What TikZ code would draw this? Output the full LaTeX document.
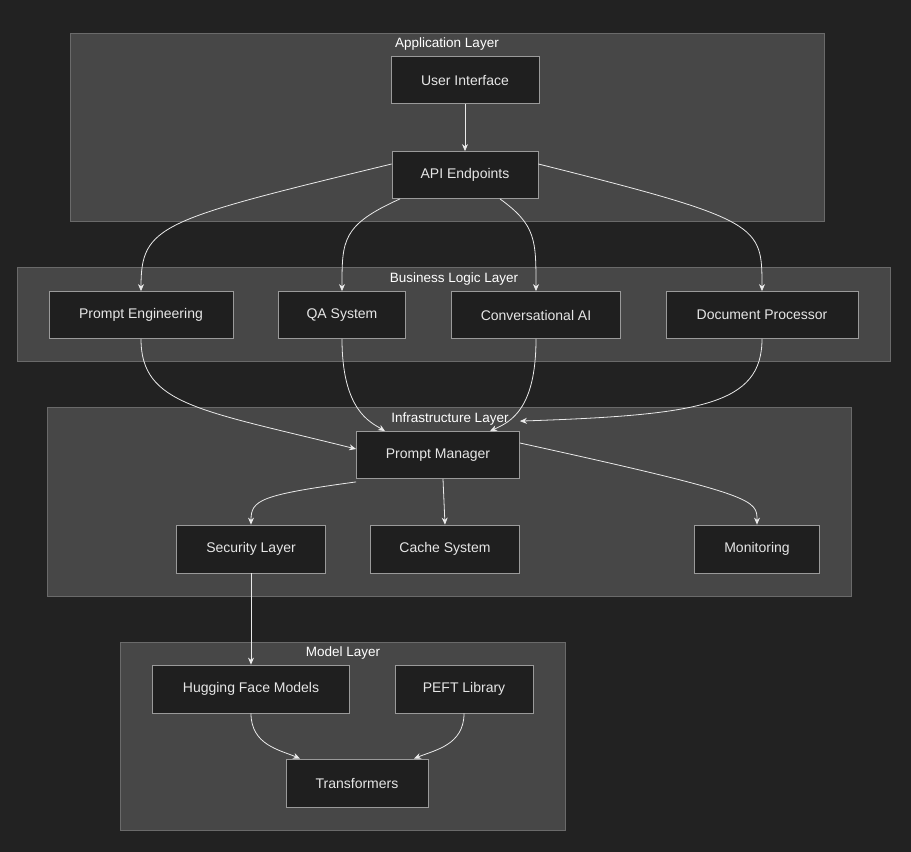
\documentclass[tikz,border=0pt]{standalone}
\usepackage{fontspec}
\setmainfont{Liberation Sans}
\usetikzlibrary{arrows.meta}
\definecolor{bgcol}{HTML}{222222}
\definecolor{layercol}{HTML}{474747}
\definecolor{layerline}{HTML}{6A6A6A}
\definecolor{boxcol}{HTML}{1F1F1F}
\definecolor{boxline}{HTML}{9A9A9A}
\definecolor{txtcol}{HTML}{E6E6E6}
\tikzset{
  layer/.style={draw=layerline,fill=layercol,line width=0.8pt},
  layerlabel/.style={text=white,font=\fontsize{13.5}{15}\selectfont},
  comp/.style={draw=boxline,fill=boxcol,line width=0.8pt,text=txtcol,font=\fontsize{14}{16}\selectfont},
  link/.style={draw=txtcol!85,line width=0.8pt,-{Stealth[length=7pt,width=6pt]}}
}
\begin{document}
\begin{tikzpicture}[x=1pt,y=-1pt]
            \fill[bgcol] (0,0) rectangle (911,852);
            \useasboundingbox (0,0) rectangle (911,852);
            % layers
            \draw[layer] (70,33) rectangle (824,221);
            \node[layerlabel] (applbl) at (447,44) {Application Layer};
            \draw[layer] (17,267) rectangle (890,361);
            \node[layerlabel] (buslbl) at (454,279) {Business Logic Layer};
            \draw[layer] (47,407) rectangle (851,596);
            \node[layerlabel] (infralbl) at (450,419) {Infrastructure Layer};
            \draw[layer] (120,642) rectangle (565,830);
            \node[layerlabel] (modellbl) at (343,653) {Model Layer};
            % components
            \node[comp,minimum width=148,minimum height=47] (ui) at (465,80) {User Interface};
            \node[comp,minimum width=146,minimum height=47] (api) at (465,175) {API Endpoints};
            \node[comp,minimum width=184,minimum height=47] (pe) at (141,315) {Prompt Engineering};
            \node[comp,minimum width=127,minimum height=47] (qa) at (342,315) {QA System};
            \node[comp,minimum width=169,minimum height=47] (conv) at (536,315) {Conversational AI};
            \node[comp,minimum width=192,minimum height=47] (doc) at (762,315) {Document Processor};
            \node[comp,minimum width=163,minimum height=47] (pm) at (438,455) {Prompt Manager};
            \node[comp,minimum width=149,minimum height=48] (sec) at (251,549) {Security Layer};
            \node[comp,minimum width=149,minimum height=48] (cache) at (445,549) {Cache System};
            \node[comp,minimum width=125,minimum height=48] (mon) at (757,549) {Monitoring};
            \node[comp,minimum width=197,minimum height=48] (hf) at (251,689) {Hugging Face Models};
            \node[comp,minimum width=138,minimum height=48] (peft) at (464,689) {PEFT Library};
            \node[comp,minimum width=142,minimum height=48] (tr) at (357,783) {Transformers};
            % links
            \draw[link] (ui) -- (api);
            \draw[link] ([yshift=11]api.west) .. controls (160,220) and (141,225) .. (pe.north);
            \draw[link] ([xshift=-65]api.south) .. controls (342,225) and (342,240) .. (qa.north);
            \draw[link] ([xshift=35]api.south) .. controls (536,225) and (536,240) .. (conv.north);
            \draw[link] ([yshift=11]api.east) .. controls (762,220) and (762,225) .. (doc.north);
            \draw[link] (pe.south) .. controls (141,405) and (200,410) .. ([yshift=6]pm.west);
            \draw[link] (qa.south) .. controls (342,410) and (370,422) .. ([xshift=-53]pm.north);
            \draw[link] (conv.south) .. controls (536,410) and (510,422) .. ([xshift=52]pm.north);
            \draw[link] (doc.south) .. controls (762,405) and (700,415) .. ([yshift=10]pm.north east);
            \draw[link] ([yshift=-3]pm.south west) .. controls (260,495) and (251,500) .. (sec.north);
            \draw[link] ([xshift=5]pm.south) -- (cache.north);
            \draw[link] ([yshift=12]pm.east) .. controls (757,495) and (757,500) .. (mon.north);
            \draw[link] (sec) -- (hf);
            \draw[link] (hf.south) .. controls (251,745) and (280,750) .. ([xshift=-57]tr.north);
            \draw[link] (peft.south) .. controls (464,745) and (435,750) .. ([xshift=57]tr.north);
        \end{tikzpicture}
\end{document}
